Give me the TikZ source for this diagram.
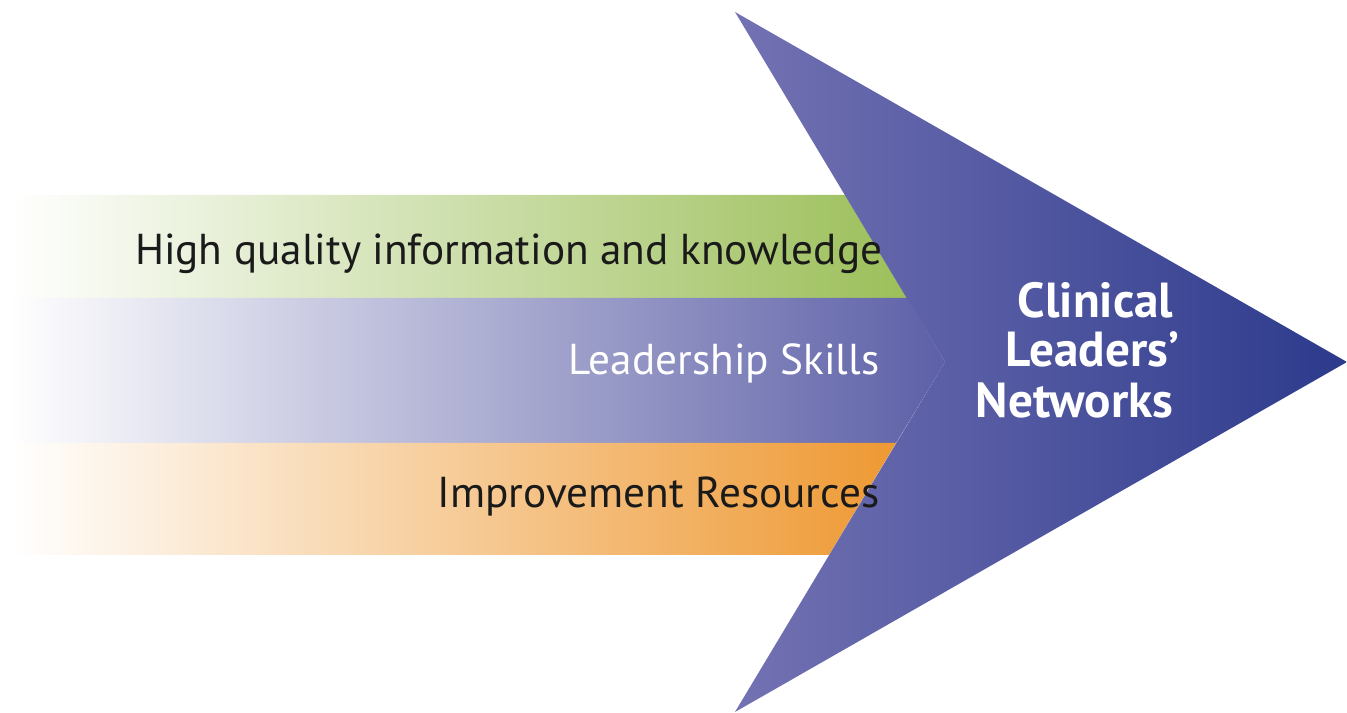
\documentclass[tikz,border=0pt]{standalone}
\usepackage{fontspec}
\setmainfont{PT Sans}
\usetikzlibrary{positioning}
\usepackage{xcolor}

\definecolor{bandgreen}{HTML}{9CBF5A}
\definecolor{bandpurple}{HTML}{5D60A7}
\definecolor{bandorange}{HTML}{EE9933}
\definecolor{arrowlight}{HTML}{7372B3}
\definecolor{arrowdark}{HTML}{2C3A8C}
\definecolor{textdark}{HTML}{1A1A1A}

\begin{document}
\begin{tikzpicture}[x=0.01cm,y=-0.01cm,
        bandtext/.style={anchor=base east,inner sep=0pt,font=\fontsize{12.3}{14}\selectfont},
        goaltext/.style={anchor=base east,inner sep=0pt,text=white,font=\fontsize{14}{16}\selectfont\bfseries}]
        \useasboundingbox (0,0) rectangle (1347,713);

        % the three bands
        \shade [left color=white,right color=bandgreen] (10,195) -- (845,195) -- (907,298) -- (10,298) -- cycle;
        \shade [left color=white,right color=bandpurple] (10,298) -- (907,298) -- (945,362) -- (896,443) -- (10,443) -- cycle;
        \shade [left color=white,right color=bandorange] (10,443) -- (896,443) -- (829,555) -- (10,555) -- cycle;

        % the big arrow
        \shade [left color=arrowlight,right color=arrowdark] (735,12) -- (1347,362) -- (735,712) -- (945,362) -- cycle;

        \node [bandtext,text=textdark] (quality) at (883,265) {High quality information and knowledge};
        \node [bandtext,text=white] (skills) at (880,375) {Leadership Skills};
        \node [bandtext,text=textdark] (resources) at (880,508) {Improvement Resources};

        \node [goaltext] (clinical) at (1174,318) {Clinical};
        \node [goaltext] (leaders) at (1180,367) {Leaders'};
        \node [goaltext] (networks) at (1174,418) {Networks};
    \end{tikzpicture}
\end{document}
